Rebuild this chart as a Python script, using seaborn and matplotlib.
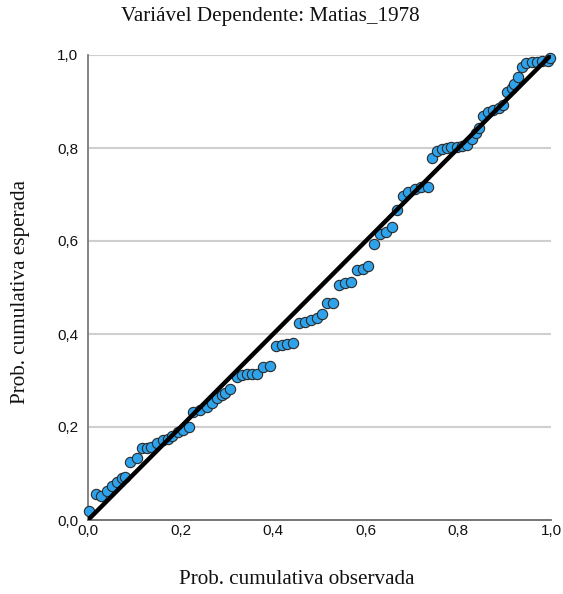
import matplotlib
matplotlib.use("Agg")
import matplotlib.pyplot as plt
import seaborn as sns
import pandas as pd
from matplotlib.ticker import FuncFormatter

obs_prob = [0.003, 0.017, 0.028, 0.040, 0.052, 0.062, 0.073, 0.080, 0.090, 0.105,
            0.116, 0.127, 0.137, 0.150, 0.162, 0.172, 0.182, 0.195, 0.205, 0.218,
            0.227, 0.242, 0.256, 0.267, 0.278, 0.289, 0.296, 0.307, 0.321, 0.332,
            0.343, 0.354, 0.364, 0.378, 0.393, 0.406, 0.418, 0.429, 0.442, 0.456,
            0.469, 0.481, 0.494, 0.505, 0.516, 0.529, 0.542, 0.555, 0.567, 0.580,
            0.593, 0.605, 0.618, 0.631, 0.644, 0.656, 0.668, 0.680, 0.692, 0.706,
            0.720, 0.735, 0.742, 0.753, 0.764, 0.775, 0.785, 0.796, 0.807, 0.818,
            0.829, 0.838, 0.845, 0.853, 0.864, 0.875, 0.888, 0.896, 0.904, 0.915,
            0.920, 0.929, 0.937, 0.947, 0.958, 0.969, 0.980, 0.993, 0.998]
exp_prob = [0.020, 0.056, 0.052, 0.062, 0.073, 0.082, 0.090, 0.093, 0.125, 0.133,
            0.155, 0.155, 0.157, 0.166, 0.172, 0.174, 0.180, 0.190, 0.193, 0.200,
            0.232, 0.237, 0.243, 0.252, 0.262, 0.269, 0.273, 0.282, 0.308, 0.312,
            0.314, 0.314, 0.314, 0.329, 0.331, 0.374, 0.376, 0.378, 0.380, 0.424,
            0.426, 0.430, 0.434, 0.443, 0.467, 0.467, 0.505, 0.510, 0.512, 0.538,
            0.540, 0.546, 0.594, 0.615, 0.620, 0.630, 0.667, 0.697, 0.705, 0.712,
            0.716, 0.716, 0.779, 0.793, 0.798, 0.801, 0.803, 0.803, 0.805, 0.806,
            0.819, 0.832, 0.843, 0.868, 0.878, 0.882, 0.887, 0.892, 0.920, 0.929,
            0.937, 0.953, 0.975, 0.982, 0.985, 0.985, 0.987, 0.987, 0.994]
ref_line = [0.0, 1.0]
ticks = [0.0, 0.2, 0.4, 0.6, 0.8, 1.0]

title = "Variável Dependente: Matias_1978"
xlabel = "Prob. cumulativa observada"
ylabel = "Prob. cumulativa esperada"

sns.set_theme(style="white")
plt.rcParams['font.family'] = ['Liberation Sans', 'DejaVu Sans']

df = pd.DataFrame({"obs": obs_prob, "exp": exp_prob})
line_df = pd.DataFrame({"x": ref_line, "y": ref_line})

W, H = 563, 594
fig = plt.figure(figsize=(W / 100, H / 100), dpi=100)
ax = fig.add_axes([88/W, 1 - 520/H, (551-88)/W, (520-55)/H])

for t in ticks[1:]:
    ax.axhline(t, color="#cfcfcf", lw=1.5, zorder=1)

sns.scatterplot(data=df, x="obs", y="exp", ax=ax, s=55, color="#2ea2ea",
                edgecolor="#2a2a2a", linewidth=0.8, zorder=3, clip_on=False)
sns.lineplot(data=line_df, x="x", y="y", ax=ax, color="black", lw=3.2,
             zorder=4)

ax.set_xlim(0, 1)
ax.set_ylim(0, 1)
ax.set_xticks(ticks)
ax.set_yticks(ticks)
fmt = FuncFormatter(lambda v, p: f"{v:.1f}".replace(".", ","))
ax.xaxis.set_major_formatter(fmt)
ax.yaxis.set_major_formatter(fmt)
ax.tick_params(axis="both", length=0, labelsize=11, colors="#111111")
ax.tick_params(axis="y", pad=7)
ax.tick_params(axis="x", pad=3)

for side in ["top", "right"]:
    ax.spines[side].set_visible(False)
ax.spines["left"].set_color("#7a7a7a")
ax.spines["left"].set_linewidth(1.3)
ax.spines["bottom"].set_color("#6a6a6a")
ax.spines["bottom"].set_linewidth(1.3)

ax.set_xlabel("")
ax.set_ylabel("")
serif = ["Liberation Serif", "DejaVu Serif"]
fig.text(297/W, 1 - 579/H, xlabel, family=serif, fontsize=15.2,
         ha="center", va="center", color="#111111")
fig.text(21/W, 1 - 292/H, ylabel, family=serif, fontsize=15.2, rotation=90,
         ha="center", va="center", color="#111111")
fig.text(270/W, 1 - 17/H, title, family=serif, fontsize=15.2,
         ha="center", va="center", color="#111111")

fig.savefig("out.png", dpi=100)
